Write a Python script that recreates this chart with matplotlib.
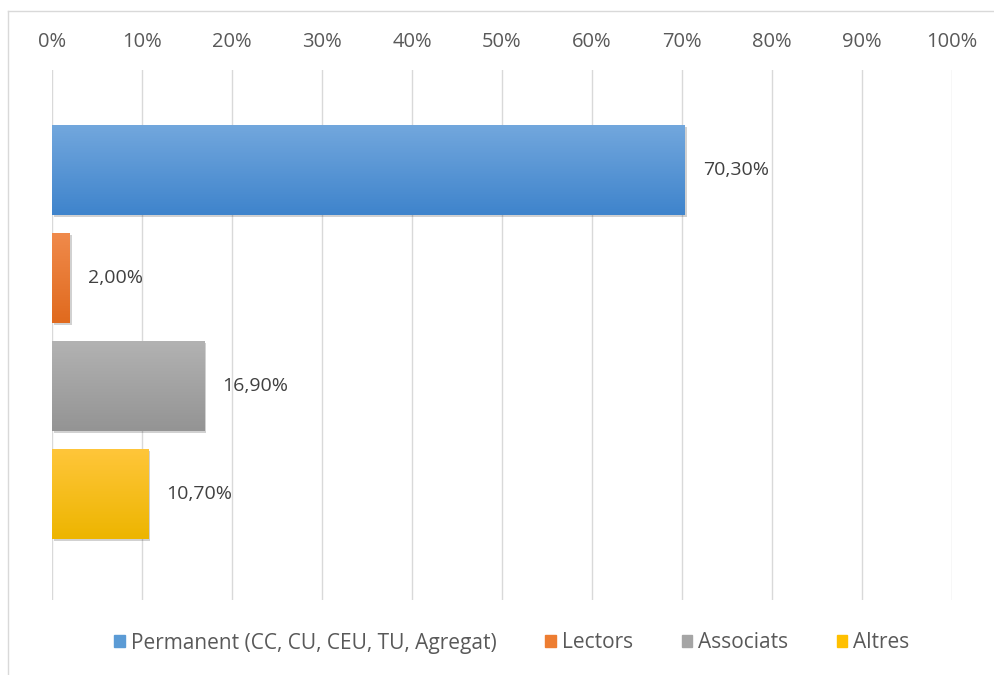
import matplotlib
matplotlib.use("Agg")
import matplotlib.pyplot as plt
import numpy as np
from matplotlib.colors import LinearSegmentedColormap, to_rgb
from matplotlib.patches import Rectangle
from matplotlib.lines import Line2D
from matplotlib import patheffects as pe

plt.rcParams['font.family'] = ['Open Sans', 'DejaVu Sans']

series = ["Permanent (CC, CU, CEU, TU, Agregat)", "Lectors", "Associats", "Altres"]
values = [70.30, 2.00, 16.90, 10.70]
labels = ["70,30%", "2,00%", "16,90%", "10,70%"]
ticks = [0, 10, 20, 30, 40, 50, 60, 70, 80, 90, 100]
tick_labels = ["0%", "10%", "20%", "30%", "40%", "50%", "60%", "70%", "80%", "90%", "100%"]
colors_top = ["#72A7DD", "#F08A4B", "#B2B2B2", "#FFC63A"]
colors_bot = ["#3F84CC", "#E06A1E", "#949494", "#EDB500"]
legend_colors = ["#5B9BD5", "#ED7D31", "#A5A5A5", "#FFC000"]

W, H = 994, 675
fig = plt.figure(figsize=(W/100, H/100), dpi=100)
ax = fig.add_axes([52/W, 1-600/H, 900/W, 530/H])

ypos = np.arange(len(series))
bh = 90/108
bars = ax.barh(ypos, values, height=bh, color=legend_colors, zorder=3)

for b, ct, cb in zip(bars, colors_top, colors_bot):
    b.set_path_effects([pe.SimplePatchShadow(offset=(1.5, -1.5), shadow_rgbFace='#000000', alpha=0.18), pe.Normal()])
    x0, y0 = b.get_x(), b.get_y()
    w, h = b.get_width(), b.get_height()
    cmap = LinearSegmentedColormap.from_list("g", [to_rgb(ct), to_rgb(cb)])
    grad = np.linspace(0, 1, 100).reshape(-1, 1)
    im = ax.imshow(grad, extent=[x0, x0 + w, y0 + h, y0], origin='upper', cmap=cmap,
                   aspect='auto', zorder=4, interpolation='bilinear')
    im.set_clip_path(b)

for y, v, lab in zip(ypos, values, labels):
    ax.annotate(lab, xy=(v, y), xytext=(18, 0), textcoords='offset pixels',
                va='center', ha='left', fontsize=14, color='#404040', zorder=5)

ax.set_xlim(0, 100)
ax.set_ylim(3 + 106/108, -100/108)
ax.set_xticks(ticks)
ax.set_xticklabels(tick_labels)
ax.xaxis.tick_top()
ax.tick_params(axis='x', length=0, pad=13, labelsize=14.5, labelcolor='#595959')
ax.set_yticks([])
ax.grid(axis='x', color='#D9D9D9', linewidth=1, zorder=0)
for s in ax.spines.values():
    s.set_visible(False)

handles = [Rectangle((0, 0), 1, 1, color=c) for c in legend_colors]
fig.legend(handles, series, loc='center', bbox_to_anchor=(512/W, 1-643/H), ncol=4, frameon=False,
           fontsize=15, handlelength=0.5, handleheight=0.5, handletextpad=0.28, columnspacing=2.35,
           labelcolor='#595959')

fig.add_artist(Line2D([8/W, 1], [1-11/H, 1-11/H], transform=fig.transFigure, color='#D9D9D9', linewidth=1))
fig.add_artist(Line2D([8/W, 8/W], [1-11/H, 0], transform=fig.transFigure, color='#D9D9D9', linewidth=1))

fig.savefig("out.png", dpi=100)
